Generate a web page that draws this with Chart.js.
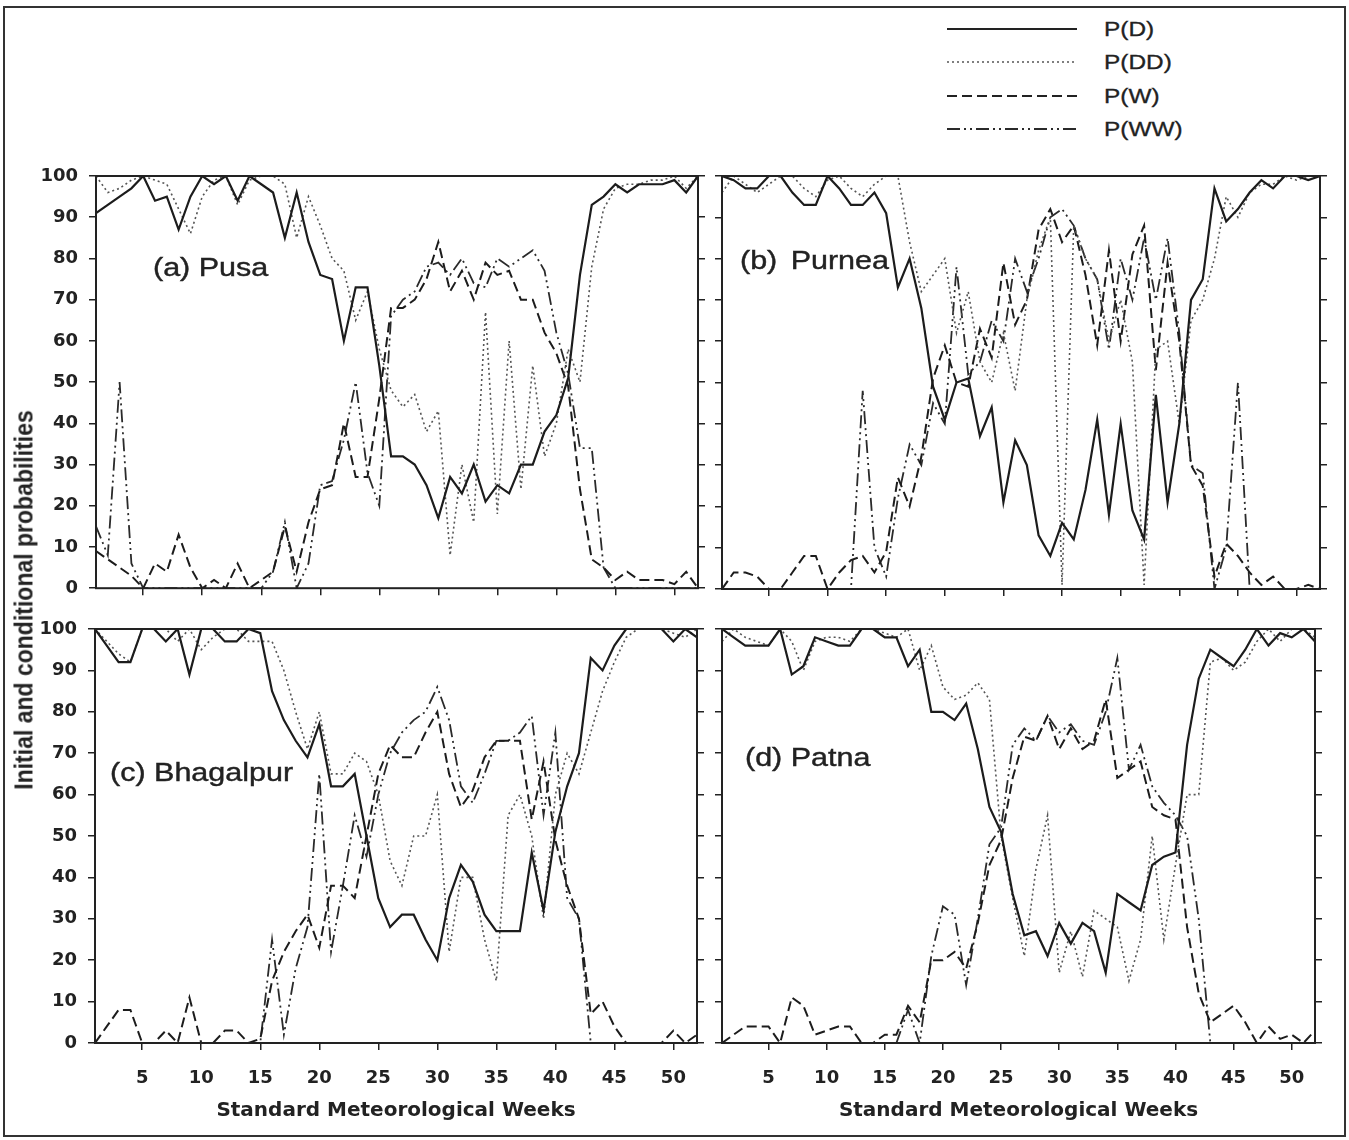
<!DOCTYPE html>
<html>
<head>
<meta charset="utf-8">
<script src="https://cdn.jsdelivr.net/npm/chart.js@4.4.1/dist/chart.umd.min.js"></script>
<style>
  body { margin: 0; background: #fff; }
  #page { position: relative; width: 1349px; height: 1140px; overflow: hidden;
          font-family: "Liberation Sans", Arial, sans-serif; color: #222; }
  #frame { position: absolute; left: 3px; top: 6px; width: 1339px; height: 1127px; border: 2px solid #333; }
  canvas { position: absolute; }
  .plab { position: absolute; font-size: 25px; white-space: nowrap; -webkit-text-stroke: 0.4px #222;
          transform: translateY(-50%) scaleX(1.22); transform-origin: left center; }
  .leg { position: absolute; left: 1104px; font-size: 20px; white-space: nowrap; -webkit-text-stroke: 0.3px #222;
         transform: translateY(-50%) scaleX(1.22); transform-origin: left center; }
  #ytitle { position: absolute; left: 24px; top: 600px; font-size: 23px; font-weight: bold; white-space: nowrap;
            transform: translate(-50%, -50%) rotate(-90deg) scaleY(1.15); }
</style>
</head>
<body>
<div id="page">
  <div id="frame"></div>

  <svg style="position:absolute;left:940px;top:0" width="150" height="150">
    <line x1="7" y1="29" x2="137" y2="29" stroke="#222" stroke-width="2"/>
    <line x1="7" y1="62" x2="137" y2="62" stroke="#555" stroke-width="1.6" stroke-dasharray="2 3"/>
    <line x1="7" y1="96" x2="137" y2="96" stroke="#222" stroke-width="2" stroke-dasharray="10 5"/>
    <line x1="7" y1="129" x2="137" y2="129" stroke="#2a2a2a" stroke-width="1.8" stroke-dasharray="13 4 2 4 2 4"/>
  </svg>
  <div class="leg" style="top:29px">P(D)</div>
  <div class="leg" style="top:62px">P(DD)</div>
  <div class="leg" style="top:96px">P(W)</div>
  <div class="leg" style="top:129px">P(WW)</div>

  <canvas id="cA" width="720" height="460" style="left:0;top:150px"></canvas>
  <canvas id="cB" width="649" height="460" style="left:700px;top:150px"></canvas>
  <canvas id="cC" width="720" height="540" style="left:0;top:600px"></canvas>
  <canvas id="cD" width="649" height="540" style="left:700px;top:600px"></canvas>

  <div class="plab" style="left:153px;top:267px">(a) Pusa</div>
  <div class="plab" style="left:740px;top:260px;word-spacing:4px">(b) Purnea</div>
  <div class="plab" style="left:110px;top:772px">(c) Bhagalpur</div>
  <div class="plab" style="left:745px;top:757px">(d) Patna</div>

  <div id="ytitle">Initial and conditional probabilities</div>
</div>

<script>
// standard meteorological weeks
const weeks = [1,2,3,4,5,6,7,8,9,10,11,12,13,14,15,16,17,18,19,20,21,22,23,24,25,26,
               27,28,29,30,31,32,33,34,35,36,37,38,39,40,41,42,43,44,45,46,47,48,49,50,51,52];
const weekTicks = [5,10,15,20,25,30,35,40,45,50];
const probTicks = [0,10,20,30,40,50,60,70,80,90,100];

// (a) Pusa
const pusaD  = [91,93,95,97,100,94,95,87,95,100,98,100,94,100,98,96,85,96,84,76,75,60,73,73,54,32,
                32,30,25,17,27,23,30,21,25,23,30,30,38,42,51,76,93,95,98,96,98,98,98,99,96,100];
const pusaDD = [100,96,97,99,100,99,98,92,86,95,99,100,93,99,100,100,98,85,95,88,80,77,65,72,58,48,
                44,47,38,43,8,30,16,67,18,60,24,54,32,40,58,50,78,92,97,98,98,99,99,100,97,100];
const pusaW  = [9,7,5,3,0,6,4,13,5,0,2,0,6,0,2,4,15,4,16,24,25,40,27,27,46,68,
                68,70,75,84,72,77,70,79,76,77,70,70,62,57,49,24,7,5,2,4,2,2,2,1,4,0];
const pusaWW = [15,8,50,6,0,0,0,0,0,0,0,0,0,0,0,4,16,0,6,25,26,36,50,28,20,66,
                70,72,78,79,76,80,74,73,80,78,80,82,77,62,52,34,34,5,0,0,0,0,0,0,0,0];

// (b) Purnea
const purneaD  = [100,99,97,97,100,100,96,93,93,100,97,93,93,96,91,73,80,68,49,41,50,51,37,44,21,36,
                  30,13,8,16,12,24,41,18,40,19,12,47,21,40,70,75,97,89,92,96,99,97,100,100,99,100];
const purneaDD = [96,100,98,96,98,100,100,97,95,99,100,97,95,98,100,100,84,72,76,80,62,72,55,50,62,48,
                  70,82,90,1,88,80,75,60,70,55,1,58,60,40,65,70,80,95,90,96,98,98,100,99,100,100];
const purneaW  = [0,4,4,3,0,0,4,8,8,0,4,7,8,4,9,27,20,32,51,59,50,49,63,56,79,64,
                  70,87,92,84,88,76,59,82,60,81,88,53,79,60,30,25,3,11,8,4,1,3,0,0,1,0];
const purneaWW = [0,0,0,0,0,0,0,0,0,0,0,0,48,10,3,22,35,30,45,40,78,52,55,65,60,80,
                  72,80,90,92,88,80,75,58,80,70,85,70,85,62,30,28,0,10,50,0,0,0,0,0,0,0];

// (c) Bhagalpur
const bhagD  = [100,96,92,92,100,100,97,100,89,100,100,97,97,100,99,85,78,73,69,77,62,62,65,50,35,28,
                31,31,25,20,35,43,39,31,27,27,27,46,32,51,62,70,93,90,96,100,100,100,100,97,100,98];
const bhagDD = [100,97,94,92,100,100,100,97,100,95,98,100,100,97,97,97,90,80,71,80,65,65,70,68,60,44,
                38,50,50,60,22,40,40,25,15,55,60,50,30,60,70,65,75,85,92,98,100,100,100,99,98,100];
const bhagW  = [0,4,8,8,0,0,3,0,11,0,0,3,3,0,1,15,22,27,31,23,38,38,35,50,65,72,
                69,69,75,80,65,57,61,69,73,73,73,54,68,49,38,30,7,10,4,0,0,0,0,3,0,2];
const bhagWW = [0,0,0,0,0,0,0,0,0,0,0,0,0,0,0,25,2,18,28,65,22,38,55,45,60,70,
                75,78,80,86,78,62,58,65,73,73,75,79,55,75,35,30,0,0,0,0,0,0,0,0,0,0];

// (d) Patna
const patnaD  = [100,98,96,96,96,100,89,91,98,97,96,96,100,100,98,98,91,95,80,80,78,82,71,57,51,36,
                 26,27,21,29,24,29,27,17,36,34,32,43,45,46,72,88,95,93,91,95,100,96,99,98,100,97];
const patnaDD = [97,100,98,97,96,100,97,90,97,98,98,97,100,100,99,98,100,90,96,86,83,84,87,83,50,35,
                 21,42,55,17,27,16,32,30,28,15,25,50,25,43,60,60,92,93,90,92,97,100,97,100,100,98];
const patnaW  = [0,2,4,4,4,0,11,9,2,3,4,4,0,0,2,2,9,5,20,20,22,18,29,43,49,64,
                 74,73,79,71,76,71,73,83,64,66,68,57,55,54,28,12,5,7,9,5,0,4,1,2,0,3];
const patnaWW = [0,0,0,0,0,0,0,0,0,0,0,0,0,0,0,0,8,0,21,33,31,14,30,48,52,72,
                 76,73,79,75,77,73,72,80,93,66,72,62,58,55,50,30,0,0,0,0,0,0,0,0,0,0];

const INK = '#222';
const tickFont = { family: 'DejaVu Sans', size: 18, weight: 'bold' };

const framePlugin = {
  id: 'frame',
  afterDatasetsDraw(chart) {
    const { ctx, chartArea: a } = chart;
    ctx.save();
    ctx.strokeStyle = INK;
    ctx.lineWidth = 2;
    ctx.strokeRect(a.left, a.top, a.right - a.left, a.bottom - a.top);
    ctx.restore();
  }
};

function pts(arr) {
  return arr.map((v, i) => ({ x: weeks[i], y: v }));
}

function yScale(pos, labels, width) {
  return {
    type: 'linear', position: pos, min: 0, max: 100,
    afterBuildTicks: s => { s.ticks = probTicks.map(v => ({ value: v })); },
    afterFit: s => { s.width = width; },
    grid: { drawOnChartArea: false, drawTicks: true, tickLength: 7, color: INK, lineWidth: 1.5 },
    border: { display: false },
    ticks: { display: labels, padding: 11, font: tickFont, color: INK }
  };
}

function panel(id, d, dd, w, ww, o) {
  new Chart(document.getElementById(id), {
    type: 'line',
    data: {
      datasets: [
        { label: 'P(D)',  data: pts(d),  borderColor: '#1c1c1c', borderWidth: 2.2 },
        { label: 'P(DD)', data: pts(dd), borderColor: '#555', borderWidth: 1.6, borderDash: [2, 3] },
        { label: 'P(W)',  data: pts(w),  borderColor: '#1c1c1c', borderWidth: 2, borderDash: [10, 5] },
        { label: 'P(WW)', data: pts(ww), borderColor: '#2a2a2a', borderWidth: 1.8, borderDash: [13, 4, 2, 4, 2, 4] }
      ]
    },
    options: {
      responsive: false,
      animation: false,
      devicePixelRatio: 1,
      elements: { point: { radius: 0 }, line: { tension: 0, fill: false } },
      layout: { padding: { top: o.top, left: 0, right: 0, bottom: 0 } },
      plugins: { legend: { display: false }, tooltip: { enabled: false } },
      scales: {
        x: {
          type: 'linear', position: 'bottom', min: 1, max: 52,
          afterBuildTicks: s => { s.ticks = weekTicks.map(v => ({ value: v })); },
          afterFit: s => { s.height = o.bottom; },
          grid: { drawOnChartArea: false, drawTicks: true, tickLength: 7, color: INK, lineWidth: 1.5 },
          border: { display: false },
          ticks: { display: o.xLabels, padding: 18, font: tickFont, color: INK, maxRotation: 0, autoSkip: false },
          title: {
            display: o.xLabels, text: 'Standard Meteorological Weeks', color: INK,
            font: { family: 'DejaVu Sans', size: 20, weight: 'bold' },
            padding: { top: 0, bottom: 17 }
          }
        },
        y: yScale('left', o.yLabels, o.left),
        y2: yScale('right', false, o.right)
      }
    },
    plugins: [framePlugin]
  });
}

panel('cA', pusaD, pusaDD, pusaW, pusaWW,         { top: 26, bottom: 21, left: 96, right: 22, xLabels: false, yLabels: true });
panel('cB', purneaD, purneaDD, purneaW, purneaWW, { top: 26, bottom: 21, left: 22, right: 29, xLabels: false, yLabels: false });
panel('cC', bhagD, bhagDD, bhagW, bhagWW,         { top: 29, bottom: 97, left: 95, right: 23, xLabels: true, yLabels: true });
panel('cD', patnaD, patnaDD, patnaW, patnaWW,     { top: 29, bottom: 97, left: 22, right: 34, xLabels: true, yLabels: false });
</script>
</body>
</html>
